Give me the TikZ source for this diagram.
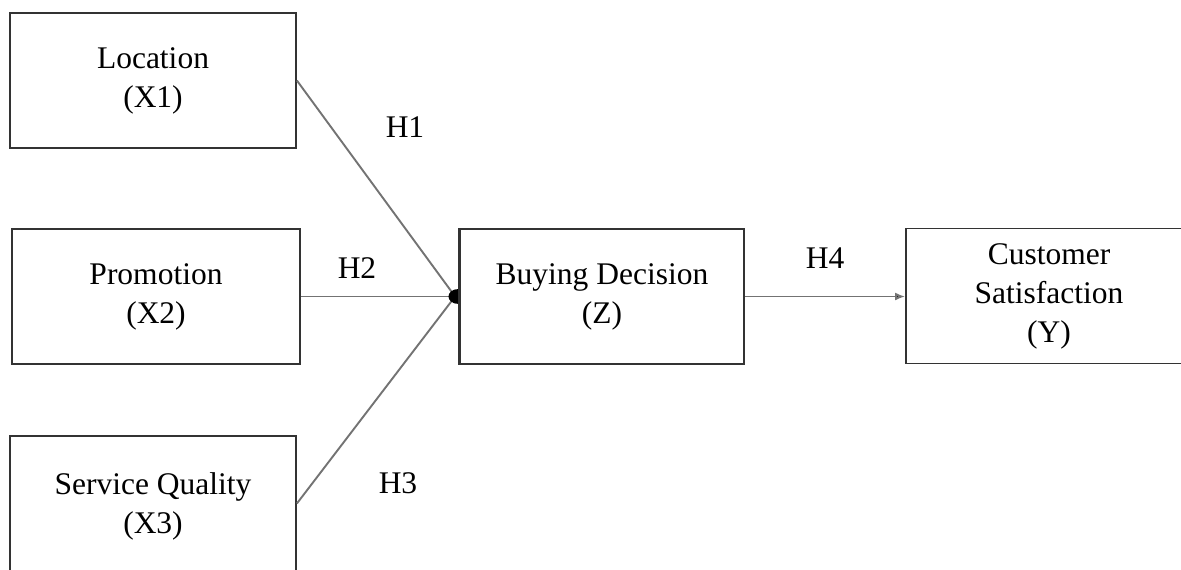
\documentclass[tikz,border=0pt]{standalone}
\usepackage{fontspec}
\setmainfont{Liberation Serif}
\usetikzlibrary{arrows.meta}
\begin{document}
\begin{tikzpicture}[x=1pt,y=-1pt,
  box/.style={draw=black!80, line width=1.8pt, fill=white, rectangle, minimum width=286pt, minimum height=135pt, align=center, font=\fontsize{31.5}{39}\selectfont, inner sep=0pt},
  lab/.style={font=\fontsize{31.5}{39}\selectfont, inner sep=0pt},
  link/.style={draw=black!55, line width=1.9pt}]
\useasboundingbox (0,0) rectangle (1181,570);
\clip (0,0) rectangle (1181,570);
\node[box] (x1) at (153,80.5) {Location\\(X1)};
\node[box, minimum width=288pt] (x2) at (156,296.5) {Promotion\\(X2)};
\node[box, minimum height=141pt] (x3) at (153,506.5) {Service Quality\\(X3)};
\node[box, minimum width=284pt] (z) at (602,296.5) {Buying Decision\\(Z)};
\node[box] (y) at (1049,296) {Customer\\Satisfaction\\(Y)};
\coordinate (m) at ([xshift=-4pt]z.west);
\draw[link] (x1.east) -- (m);
\draw[link] (x2.east |- m) -- (m);
\draw[link] ([yshift=3pt]x3.east) -- (m);
\fill[black] ([yshift=7.5pt]z.west) .. controls +(-14pt,0pt) and +(-14pt,0pt) .. ([yshift=-7.5pt]z.west) -- cycle;
\draw[link, -{Latex[length=10pt,width=8pt,fill=black]}] (z.east) -- (y.west |- z.east);
\node[lab] (h1) at (405,127) {H1};
\node[lab] (h2) at (357,268) {H2};
\node[lab] (h3) at (398,483) {H3};
\node[lab] (h4) at (825,258) {H4};
\draw[draw=black!80, line width=1.8pt] (z.north west) -- (z.south west);
\end{tikzpicture}
\end{document}
